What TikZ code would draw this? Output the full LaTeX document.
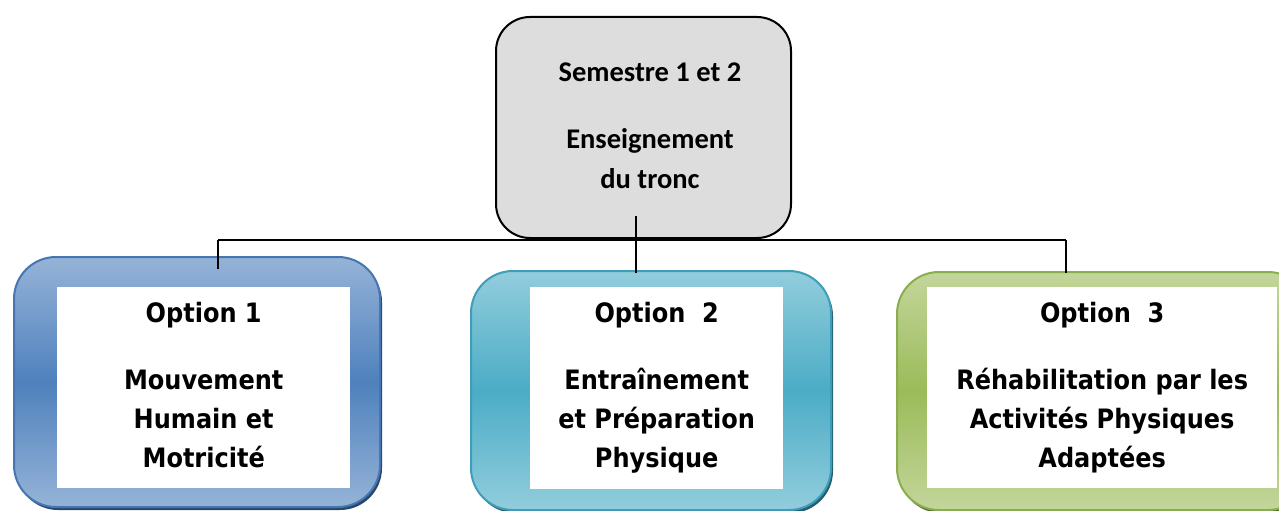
\documentclass[tikz,border=0pt]{standalone}
\usepackage{fontspec}
\newfontfamily\optfont{DejaVu Sans Condensed}
\newfontfamily\topfont{Carlito}
\usetikzlibrary{shadows}
\definecolor{blueL}{HTML}{95B3D7}
\definecolor{blueD}{HTML}{4F81BD}
\definecolor{blueB}{HTML}{4576B0}
\definecolor{tealL}{HTML}{92CDDC}
\definecolor{tealD}{HTML}{4BACC6}
\definecolor{tealB}{HTML}{3E9DB8}
\definecolor{greenL}{HTML}{C3D69B}
\definecolor{greenD}{HTML}{9BBB59}
\definecolor{greenB}{HTML}{8AAE4E}
\definecolor{topgray}{HTML}{DDDDDD}
\begin{document}
\begin{tikzpicture}[x=1pt,y=-1pt,
  optbox/.style n args={3}{draw=#1, line width=2pt, rounded corners=42pt,
    top color=#2, bottom color=#2, middle color=#3, anchor=north west,
    inner sep=0pt,
    drop shadow={shadow xshift=2pt, shadow yshift=-3pt, fill=#1!60!black, opacity=1}},
  whitebox/.style={fill=white, draw=none, anchor=north west, inner sep=0pt},
  opttext/.style={font=\optfont\bfseries\fontsize{26.7}{39}\selectfont, align=center, inner sep=0pt},
  conn/.style={draw=black, line width=1.5pt}]
\useasboundingbox (0,0) rectangle (1279,511);

% top box
\node[draw=black, line width=2pt, fill=topgray, rounded corners=34pt,
      anchor=north west, minimum width=295pt, minimum height=221pt, inner sep=0pt]
      (top) at (495,16) {};
\node[font=\topfont\bfseries\fontsize{28.5}{40}\selectfont, align=center, inner sep=0pt]
      (toptext) at (650,126) {Semestre 1 et 2\\[27pt]Enseignement\\du tronc};

% option boxes
\node[optbox={blueB}{blueL}{blueD}, minimum width=366pt, minimum height=250pt] (o1) at (13,256) {};
\node[optbox={tealB}{tealL}{tealD}, minimum width=360pt, minimum height=239pt] (o2) at (470,270) {};
\node[optbox={greenB}{greenL}{greenD}, minimum width=413pt, minimum height=238pt] (o3) at (896,271) {};

\node[whitebox, minimum width=293pt, minimum height=201pt] (w1) at (57,287) {};
\node[whitebox, minimum width=253pt, minimum height=202pt] (w2) at (530,287) {};
\node[whitebox, minimum width=350pt, minimum height=201pt] (w3) at (927,287) {};

\node[opttext] (t1) at ([yshift=3pt]w1.center) {Option 1\\[28pt]Mouvement\\Humain et\\Motricité};
\node[opttext] (t2) at (w2.center) {Option~~2\\[28pt]Entraînement\\et Préparation\\Physique};
\node[opttext] (t3) at (w3.center) {Option~~3\\[28pt]Réhabilitation par les\\Activités Physiques\\Adaptées};

% connectors
\coordinate (busL) at (218,240);
\coordinate (busR) at (1066,240);
\coordinate (stem) at (636,216);
\coordinate (tick1) at (218,269);
\coordinate (tick2) at (636,273);
\coordinate (tick3) at (1066,273);
\draw[conn] (busL) -- (busR);
\draw[conn] (stem) -- (tick2);
\draw[conn] (busL) -- (tick1);
\draw[conn] (busR) -- (tick3);
\end{tikzpicture}
\end{document}
